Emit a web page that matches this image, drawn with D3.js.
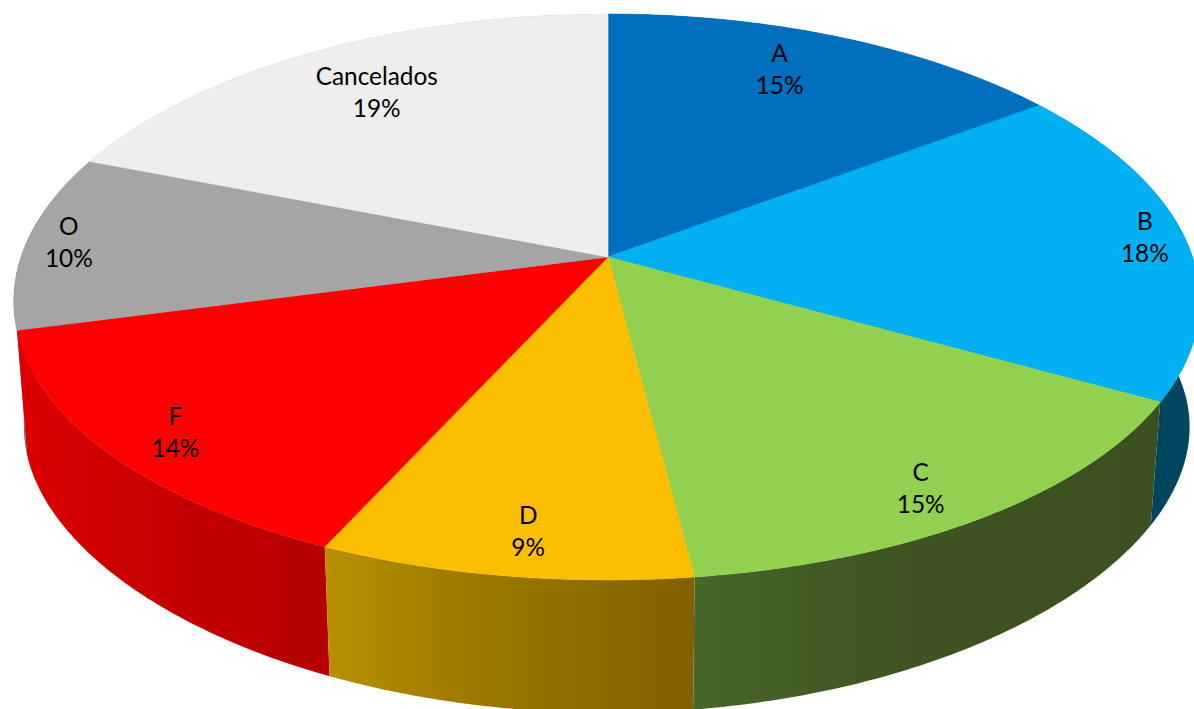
<!DOCTYPE html>
<html>
<head>
<meta charset="utf-8">
<script src="https://cdn.jsdelivr.net/npm/d3@7/dist/d3.min.js"></script>
<style>
html,body{margin:0;padding:0;background:#fff;overflow:hidden}
svg{display:block}
text{font-family:Lato,"Open Sans",sans-serif;font-size:24.4px;fill:#000;text-anchor:middle}
</style>
</head>
<body>
<svg id="chart" width="1194" height="709"></svg>
<script>
const categories = ["A","B","C","D","F","O","Cancelados"];
const shares = [14.9,18.2,14.9,8.8,14.1,10,19.1];
const topColors = ["#006fbe","#00b0f0","#92d050","#fcbe00","#ff0000","#a5a5a5","#eeeeee"];
const rimLeftColors = ["#004a75","#00465f","#486728","#b89000","#de0000","#6a6a6a","#909090"];
const rimMidColors = ["#004a75","#00465f","#3f5522","#9c7a00","#c80000","#6a6a6a","#909090"];
const rimRightColors = ["#004a75","#00465f","#3c4f20","#806000","#b40000","#6a6a6a","#909090"];
const labelAngles = [23.7,85.7,147.7,187.7,229,273.1,326.1];
const labelRadii = [0.815,0.931,0.885,0.878,0.888,0.927,0.777];

const W = 1194, H = 709;
const svg = d3.select("#chart");
const defs = svg.append("defs");

const pie = d3.pie().sort(null).value(d => d)(shares);
const percent = d3.format(".0f");

// disc coordinates (unit circle) to screen with a simple perspective
const xScale = d3.scaleLinear().domain([-1,0,1]).range([21,608,1192.5]);
const kx = 0.1552;
const topDisc = {cy:257, A:277.3, k:0.1413, s:1};
const botDisc = {cy:386, A:255, k:0.22, s:0.983};
function project(angle, r, disc){
  const X = r*Math.sin(angle), Y = r*Math.cos(angle);
  return [608 + (xScale(X/(1+kx*Y))-608)*disc.s, disc.cy - disc.A*Y/(1+disc.k*Y)];
}
const line = d3.line();
const arcPoints = (a0,a1,disc) => d3.range(0,81).map(i => project(a0+(a1-a0)*i/80,1,disc));

// side wall
const rimOrder = [0,6,5,1,4,2,3];
rimOrder.forEach(i => {
  const p = pie[i];
  const topArc = arcPoints(p.startAngle,p.endAngle,topDisc);
  const botArc = arcPoints(p.startAngle,p.endAngle,botDisc).reverse();
  const xs = topArc.concat(botArc).map(d=>d[0]);
  const id = "rim"+i;
  const g = defs.append("linearGradient").attr("id",id).attr("gradientUnits","userSpaceOnUse")
    .attr("x1",d3.min(xs)).attr("x2",d3.max(xs)).attr("y1",0).attr("y2",0);
  g.append("stop").attr("offset",0).attr("stop-color",rimLeftColors[i]);
  g.append("stop").attr("offset",0.4).attr("stop-color",rimMidColors[i]);
  g.append("stop").attr("offset",1).attr("stop-color",rimRightColors[i]);
  svg.append("path").attr("d",line(topArc.concat(botArc))+"Z").attr("fill",`url(#${id})`);
});

// top face
pie.forEach((p,i) => {
  const pts = [project(0,0,topDisc)].concat(arcPoints(p.startAngle,p.endAngle,topDisc));
  svg.append("path").attr("d",line(pts)+"Z").attr("fill",topColors[i])
    .attr("stroke",topColors[i]).attr("stroke-width",0.6);
});

// labels
pie.forEach((p,i) => {
  const [x,y] = project(labelAngles[i]*Math.PI/180,labelRadii[i],topDisc);
  svg.append("text").attr("x",x).attr("y",y-8).text(categories[i]);
  svg.append("text").attr("x",x).attr("y",y+24).text(percent(shares[i])+"%");
});
</script>
</body>
</html>
